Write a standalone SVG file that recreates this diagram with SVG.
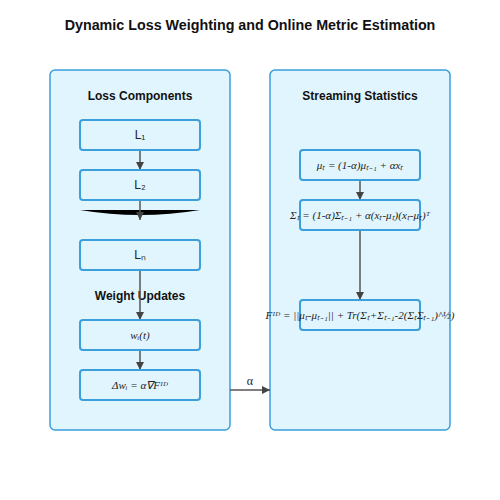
<svg xmlns="http://www.w3.org/2000/svg" width="500" height="500" viewBox="0 0 500 500">
<style>
.title{font-family:"Liberation Sans",Arial,sans-serif;font-size:14.3px;font-weight:bold;fill:#111;text-anchor:middle}
.head{font-family:"Liberation Sans",Arial,sans-serif;font-size:12px;font-weight:bold;fill:#111;text-anchor:middle}
.panel{fill:#e1f5fe;stroke:#3a9fdb;stroke-width:1.5}
.box{fill:#e1f5fe;stroke:#3a9fdb;stroke-width:2}
.lbl{font-family:"Liberation Sans",Arial,sans-serif;font-size:12px;fill:#222;text-anchor:middle}
.math{font-family:"Liberation Serif","Times New Roman",serif;font-style:italic;font-size:11px;fill:#222;text-anchor:middle}
.edge{stroke:#555;stroke-width:1.5;fill:none}
</style>
<defs>
<marker id="ah" markerWidth="8" markerHeight="8" refX="8" refY="4" orient="auto" markerUnits="userSpaceOnUse">
<path d="M0,0 L8,4 L0,8 Z" fill="#444"/>
</marker>
</defs>
<text class="title" x="250" y="30">Dynamic Loss Weighting and Online Metric Estimation</text>
<g id="panel-left"><rect class="panel" x="50" y="70" width="180" height="360" rx="5"/>
<text class="head" x="140" y="100">Loss Components</text>
<text class="head" x="140" y="300">Weight Updates</text></g>
<g id="panel-right"><rect class="panel" x="270" y="70" width="180" height="360" rx="5"/>
<text class="head" x="360" y="100">Streaming Statistics</text></g>
<path id="ellipsis" d="M80,210 Q140,220 200,210 Z" fill="#000"/>
<g id="connectors">
<line class="edge" x1="140" y1="150" x2="140" y2="170" marker-end="url(#ah)"/>
<line class="edge" x1="140" y1="200" x2="140" y2="220" marker-end="url(#ah)"/>
<line class="edge" x1="140" y1="270" x2="140" y2="320" marker-end="url(#ah)"/>
<line class="edge" x1="140" y1="350" x2="140" y2="370" marker-end="url(#ah)"/>
<line class="edge" x1="360" y1="180" x2="360" y2="200" marker-end="url(#ah)"/>
<line class="edge" x1="360" y1="230" x2="360" y2="300" marker-end="url(#ah)"/>
<line class="edge" x1="230" y1="390" x2="270" y2="390" marker-end="url(#ah)"/>
<text class="math" x="250" y="385" style="font-style:normal;font-size:12px">α</text>
</g>
<g id="L1"><rect class="box" x="80" y="120" width="120" height="30" rx="3"/><text class="lbl" x="140" y="139">L₁</text></g>
<g id="L2"><rect class="box" x="80" y="170" width="120" height="30" rx="3"/><text class="lbl" x="140" y="189">L₂</text></g>
<g id="Ln"><rect class="box" x="80" y="240" width="120" height="30" rx="3"/><text class="lbl" x="140" y="259">Lₙ</text></g>
<g id="w"><rect class="box" x="80" y="320" width="120" height="30" rx="3"/><text class="math" x="140" y="339">wᵢ(t)</text></g>
<g id="dw"><rect class="box" x="80" y="370" width="120" height="30" rx="3"/><text class="math" x="140" y="389">Δwᵢ = α∇Fᴵᴰ</text></g>
<g id="mu"><rect class="box" x="300" y="150" width="120" height="30" rx="3"/><text class="math" x="360" y="169">μₜ = (1-α)μₜ₋₁ + αxₜ</text></g>
<g id="sigma"><rect class="box" x="300" y="200" width="120" height="30" rx="3"/><text class="math" x="360" y="219">Σₜ = (1-α)Σₜ₋₁ + α(xₜ-μₜ)(xₜ-μₜ)ᵀ</text></g>
<g id="fid"><rect class="box" x="300" y="300" width="120" height="30" rx="3"/><text class="math" x="360" y="319">Fᴵᴰ = ||μₜ-μₜ₋₁|| + Tr(Σₜ+Σₜ₋₁-2(ΣₜΣₜ₋₁)^½)</text></g>
</svg>
